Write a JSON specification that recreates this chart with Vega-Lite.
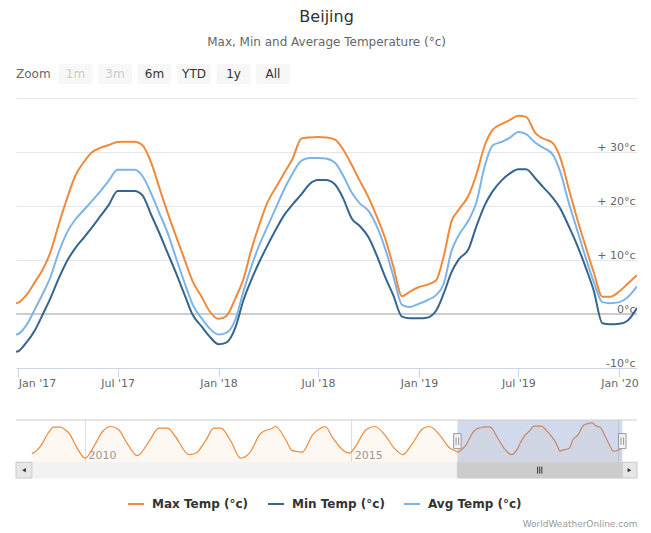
{
  "$schema": "https://vega.github.io/schema/vega-lite/v6.json",
  "background": "white",
  "padding": {"left": 15, "right": 15, "top": 9, "bottom": 0},
  "config": {
    "font": "DejaVu Sans",
    "view": {"stroke": null},
    "axis": {"labelFont": "DejaVu Sans", "labelColor": "#666666", "labelFontSize": 11, "title": null}
  },
  "title": {
    "text": "Beijing",
    "subtitle": "Max, Min and Average Temperature (°c)",
    "anchor": "middle",
    "font": "DejaVu Sans",
    "fontSize": 16,
    "fontWeight": "normal",
    "color": "#333333",
    "subtitleFont": "DejaVu Sans",
    "subtitleFontSize": 12,
    "subtitleColor": "#666666",
    "subtitlePadding": 12,
    "offset": 16
  },
  "datasets": {
    "main": [
      {"date": "2016-12-28", "max": 2.0, "min": -7.0, "avg": -3.8},
      {"date": "2017-01-01", "max": 2.1, "min": -6.9, "avg": -3.7},
      {"date": "2017-01-15", "max": 3.4, "min": -5.4, "avg": -2.2},
      {"date": "2017-02-01", "max": 6.0, "min": -2.9, "avg": 1.0},
      {"date": "2017-02-15", "max": 8.3, "min": 0.0, "avg": 3.8},
      {"date": "2017-03-01", "max": 11.5, "min": 3.0, "avg": 6.9},
      {"date": "2017-03-15", "max": 16.3, "min": 6.4, "avg": 11.2},
      {"date": "2017-04-01", "max": 21.7, "min": 10.0, "avg": 15.3},
      {"date": "2017-04-15", "max": 25.6, "min": 12.2, "avg": 17.5},
      {"date": "2017-05-01", "max": 28.2, "min": 14.2, "avg": 19.3},
      {"date": "2017-05-15", "max": 29.9, "min": 16.0, "avg": 20.9},
      {"date": "2017-06-01", "max": 30.8, "min": 18.3, "avg": 22.9},
      {"date": "2017-06-15", "max": 31.3, "min": 20.2, "avg": 24.7},
      {"date": "2017-07-01", "max": 31.85, "min": 22.8, "avg": 26.7},
      {"date": "2017-07-15", "max": 31.9, "min": 22.8, "avg": 26.7},
      {"date": "2017-08-01", "max": 31.9, "min": 22.8, "avg": 26.7},
      {"date": "2017-08-15", "max": 31.3, "min": 22.0, "avg": 25.6},
      {"date": "2017-09-01", "max": 27.8, "min": 18.2, "avg": 22.1},
      {"date": "2017-09-15", "max": 23.4, "min": 15.0, "avg": 18.7},
      {"date": "2017-10-01", "max": 18.5, "min": 11.1, "avg": 14.8},
      {"date": "2017-10-15", "max": 14.5, "min": 7.7, "avg": 10.5},
      {"date": "2017-11-01", "max": 9.8, "min": 3.3, "avg": 5.5},
      {"date": "2017-11-15", "max": 6.0, "min": -0.2, "avg": 1.7},
      {"date": "2017-12-01", "max": 3.2, "min": -2.3, "avg": -0.8},
      {"date": "2017-12-15", "max": 0.6, "min": -4.1, "avg": -2.6},
      {"date": "2018-01-01", "max": -0.9, "min": -5.6, "avg": -3.8},
      {"date": "2018-01-15", "max": -0.4, "min": -5.3, "avg": -3.5},
      {"date": "2018-02-01", "max": 3.0, "min": -2.4, "avg": -0.9},
      {"date": "2018-02-15", "max": 6.4, "min": 2.5, "avg": 4.1},
      {"date": "2018-03-01", "max": 11.7, "min": 6.2, "avg": 8.6},
      {"date": "2018-03-15", "max": 16.2, "min": 9.4, "avg": 12.5},
      {"date": "2018-04-01", "max": 20.9, "min": 12.9, "avg": 16.4},
      {"date": "2018-04-15", "max": 23.4, "min": 15.6, "avg": 19.6},
      {"date": "2018-05-01", "max": 26.2, "min": 18.4, "avg": 23.2},
      {"date": "2018-05-15", "max": 28.6, "min": 20.2, "avg": 25.9},
      {"date": "2018-06-01", "max": 32.5, "min": 22.2, "avg": 28.4},
      {"date": "2018-06-15", "max": 32.7, "min": 24.0, "avg": 28.9},
      {"date": "2018-07-01", "max": 32.8, "min": 24.8, "avg": 28.9},
      {"date": "2018-07-15", "max": 32.7, "min": 24.8, "avg": 28.8},
      {"date": "2018-08-01", "max": 32.3, "min": 24.0, "avg": 28.0},
      {"date": "2018-08-15", "max": 30.6, "min": 21.6, "avg": 25.8},
      {"date": "2018-09-01", "max": 27.5, "min": 17.6, "avg": 22.4},
      {"date": "2018-09-15", "max": 24.7, "min": 16.3, "avg": 20.5},
      {"date": "2018-10-01", "max": 21.6, "min": 14.2, "avg": 19.1},
      {"date": "2018-10-15", "max": 18.3, "min": 11.1, "avg": 16.5},
      {"date": "2018-11-01", "max": 13.8, "min": 6.7, "avg": 11.9},
      {"date": "2018-11-15", "max": 8.9, "min": 3.5, "avg": 7.1},
      {"date": "2018-12-01", "max": 3.3, "min": -0.5, "avg": 1.7},
      {"date": "2018-12-15", "max": 4.1, "min": -0.8, "avg": 1.3},
      {"date": "2019-01-01", "max": 5.0, "min": -0.8, "avg": 1.9},
      {"date": "2019-01-15", "max": 5.4, "min": -0.7, "avg": 2.5},
      {"date": "2019-02-01", "max": 6.2, "min": 0.6, "avg": 3.5},
      {"date": "2019-02-15", "max": 10.7, "min": 3.8, "avg": 5.6},
      {"date": "2019-03-01", "max": 17.1, "min": 7.7, "avg": 11.6},
      {"date": "2019-03-15", "max": 19.4, "min": 10.2, "avg": 14.7},
      {"date": "2019-04-01", "max": 21.9, "min": 12.0, "avg": 17.3},
      {"date": "2019-04-15", "max": 25.7, "min": 16.1, "avg": 20.5},
      {"date": "2019-05-01", "max": 31.3, "min": 20.2, "avg": 27.5},
      {"date": "2019-05-15", "max": 34.1, "min": 22.7, "avg": 31.2},
      {"date": "2019-06-01", "max": 35.2, "min": 24.8, "avg": 31.9},
      {"date": "2019-06-15", "max": 35.9, "min": 26.0, "avg": 32.6},
      {"date": "2019-07-01", "max": 36.7, "min": 26.8, "avg": 33.7},
      {"date": "2019-07-15", "max": 36.5, "min": 26.8, "avg": 33.3},
      {"date": "2019-08-01", "max": 33.5, "min": 25.1, "avg": 31.7},
      {"date": "2019-08-15", "max": 32.5, "min": 23.5, "avg": 30.8},
      {"date": "2019-09-01", "max": 31.7, "min": 21.6, "avg": 29.6},
      {"date": "2019-09-15", "max": 29.0, "min": 19.6, "avg": 26.4},
      {"date": "2019-10-01", "max": 23.1, "min": 16.2, "avg": 20.5},
      {"date": "2019-10-15", "max": 18.0, "min": 13.0, "avg": 15.9},
      {"date": "2019-11-01", "max": 12.3, "min": 8.5, "avg": 10.3},
      {"date": "2019-11-15", "max": 7.8, "min": 4.4, "avg": 6.0},
      {"date": "2019-12-01", "max": 3.2, "min": -1.7, "avg": 2.2},
      {"date": "2019-12-15", "max": 3.2, "min": -1.9, "avg": 2.0},
      {"date": "2020-01-01", "max": 4.2, "min": -1.8, "avg": 2.2},
      {"date": "2020-01-15", "max": 5.5, "min": -1.3, "avg": 3.0},
      {"date": "2020-02-02", "max": 7.2, "min": 1.1, "avg": 5.1}
    ],
    "history": [
      {"date": "2009-01-01", "max": 0.2},
      {"date": "2009-02-10", "max": 5.0},
      {"date": "2009-03-15", "max": 12.7},
      {"date": "2009-04-20", "max": 24.0},
      {"date": "2009-06-01", "max": 31.5},
      {"date": "2009-07-15", "max": 31.5},
      {"date": "2009-08-20", "max": 28.0},
      {"date": "2009-09-12", "max": 24.4},
      {"date": "2009-11-01", "max": 8.8},
      {"date": "2010-01-01", "max": -5.0},
      {"date": "2010-03-15", "max": 12.7},
      {"date": "2010-05-01", "max": 26.4},
      {"date": "2010-06-25", "max": 32.3},
      {"date": "2010-08-20", "max": 28.4},
      {"date": "2010-10-15", "max": 12.7},
      {"date": "2010-12-25", "max": -2.2},
      {"date": "2011-03-15", "max": 14.6},
      {"date": "2011-05-22", "max": 30.3},
      {"date": "2011-07-20", "max": 30.3},
      {"date": "2011-09-12", "max": 20.5},
      {"date": "2011-12-15", "max": -1.0},
      {"date": "2012-02-01", "max": 0.9},
      {"date": "2012-04-10", "max": 16.6},
      {"date": "2012-06-01", "max": 30.3},
      {"date": "2012-07-20", "max": 30.3},
      {"date": "2012-09-28", "max": 14.6},
      {"date": "2012-12-01", "max": -5.0},
      {"date": "2013-02-01", "max": 0.9},
      {"date": "2013-04-20", "max": 24.4},
      {"date": "2013-07-08", "max": 30.3},
      {"date": "2013-07-30", "max": 32.3},
      {"date": "2013-10-08", "max": 16.6},
      {"date": "2013-11-22", "max": 3.7},
      {"date": "2014-01-30", "max": 2.1},
      {"date": "2014-04-10", "max": 22.5},
      {"date": "2014-06-05", "max": 30.3},
      {"date": "2014-07-05", "max": 32.3},
      {"date": "2014-08-28", "max": 18.5},
      {"date": "2014-11-01", "max": 4.9},
      {"date": "2014-12-20", "max": 0.9},
      {"date": "2015-01-22", "max": 6.8},
      {"date": "2015-04-12", "max": 28.4},
      {"date": "2015-06-10", "max": 32.3},
      {"date": "2015-08-18", "max": 22.5},
      {"date": "2015-10-22", "max": 6.8},
      {"date": "2015-12-20", "max": -1.0},
      {"date": "2016-02-18", "max": 10.8},
      {"date": "2016-05-08", "max": 30.3},
      {"date": "2016-06-20", "max": 32.3},
      {"date": "2016-08-28", "max": 22.5},
      {"date": "2016-11-05", "max": 6.8},
      {"date": "2016-12-20", "max": 2.9},
      {"date": "2016-12-28", "max": 2.0}
    ]
  },
  "vconcat": [
    {
      "vconcat": [
        {
          "width": 277,
          "height": 20,
          "data": {"values": [
            {"label": "Zoom", "role": "caption"},
            {"label": "1m", "role": "disabled"},
            {"label": "3m", "role": "disabled"},
            {"label": "6m", "role": "button"},
            {"label": "YTD", "role": "button"},
            {"label": "1y", "role": "button"},
            {"label": "All", "role": "button"}
          ]},
          "encoding": {
            "x": {"field": "label", "type": "nominal", "sort": null, "axis": null,
                  "scale": {"type": "band", "domain": ["Zoom", "1m", "3m", "6m", "YTD", "1y", "All"], "paddingInner": 0.14, "paddingOuter": 0.076}}
          },
          "layer": [
            {"transform": [{"filter": "datum.role != 'caption'"}],
             "mark": {"type": "rect", "fill": "#f7f7f7", "cornerRadius": 2}},
            {"transform": [{"filter": "datum.role != 'caption'"}],
             "mark": {"type": "text", "fontSize": 12, "baseline": "middle", "font": "DejaVu Sans"},
             "encoding": {"text": {"field": "label"},
                          "color": {"condition": {"test": "datum.role == 'disabled'", "value": "#cccccc"}, "value": "#333333"}}},
            {"transform": [{"filter": "datum.role == 'caption'"}],
             "mark": {"type": "text", "fontSize": 12, "align": "left", "baseline": "middle", "dx": -3, "color": "#666666", "font": "DejaVu Sans"},
             "encoding": {"x": {"field": "label", "type": "nominal", "bandPosition": 0},
                          "text": {"field": "label"}}}
          ]
        },
        {
          "width": 621,
          "height": 270,
          "data": {"name": "main"},
          "layer": [
            {"mark": {"type": "rule", "color": "#cccccc", "strokeWidth": 2},
             "encoding": {"y": {"datum": 0, "type": "quantitative"}}},
            {"transform": [{"fold": ["max", "min", "avg"], "as": ["series", "temp"]}],
             "mark": {"type": "line", "interpolate": "monotone", "strokeWidth": 2, "clip": true},
             "encoding": {
               "x": {"field": "date", "type": "temporal",
                     "scale": {"type": "utc", "domain": [{"year": 2016, "month": 12, "date": 28, "utc": true}, {"year": 2020, "month": 2, "date": 2, "utc": true}]},
                     "axis": {
                       "values": [
                         {"year": 2017, "month": 1, "date": 1, "utc": true},
                         {"year": 2017, "month": 7, "date": 1, "utc": true},
                         {"year": 2018, "month": 1, "date": 1, "utc": true},
                         {"year": 2018, "month": 7, "date": 1, "utc": true},
                         {"year": 2019, "month": 1, "date": 1, "utc": true},
                         {"year": 2019, "month": 7, "date": 1, "utc": true},
                         {"year": 2020, "month": 1, "date": 1, "utc": true}
                       ],
                       "format": "%b '%y",
                       "labelFlush": 3,
                       "labelOverlap": false,
                       "grid": false,
                       "domainColor": "#ccd6eb",
                       "tickColor": "#ccd6eb",
                       "tickSize": 9,
                       "labelPadding": 0,
                       "labelColor": "#666666",
                       "labelFontSize": 11
                     }},
               "y": {"field": "temp", "type": "quantitative",
                     "scale": {"domain": [-10, 40], "nice": false, "zero": false},
                     "axis": {
                       "orient": "right",
                       "values": [-10, 0, 10, 20, 30, 40],
                       "grid": true,
                       "gridColor": "#e6e6e6",
                       "domain": false,
                       "ticks": false,
                       "tickSize": 0,
                       "labelAlign": "right",
                       "labelPadding": -2,
                       "labelBaseline": "alphabetic",
                       "labelOffset": -2,
                       "labelColor": "#666666",
                       "labelFontSize": 11,
                       "labelExpr": "datum.value >= 40 ? '' : (datum.value > 0 ? '+ ' + datum.value + '°c' : datum.value + '°c')"
                     }},
               "color": {"field": "series", "type": "nominal",
                         "scale": {"domain": ["max", "min", "avg"], "range": ["#f1893a", "#35648f", "#7db4e6"]},
                         "legend": {
                           "orient": "none",
                           "legendX": 111,
                           "legendY": 431,
                           "direction": "horizontal",
                           "title": null,
                           "symbolType": "stroke",
                           "symbolSize": 256,
                           "symbolStrokeWidth": 2,
                           "labelFont": "DejaVu Sans",
                           "labelFontSize": 12,
                           "labelFontWeight": "bold",
                           "labelColor": "#333333",
                           "labelOffset": 7,
                           "columnPadding": 15,
                           "labelExpr": "datum.label == 'max' ? 'Max Temp (°c)' : (datum.label == 'min' ? 'Min Temp (°c)' : 'Avg Temp (°c)')"
                         }}
             }}
          ]
        }
      ],
      "spacing": 14,
      "resolve": {"scale": {"x": "independent", "y": "independent"}}
    },
    {
      "width": 621,
      "height": 58,
      "title": {"text": "WorldWeatherOnline.com", "orient": "bottom", "anchor": "end", "font": "DejaVu Sans", "fontSize": 9, "fontWeight": "normal", "color": "#999999", "offset": 41},
      "layer": [
        {"data": {"name": "history"},
         "mark": {"type": "area", "interpolate": "monotone", "color": "#f1893a", "opacity": 0.06},
         "encoding": {
           "x": {"field": "date", "type": "temporal",
                 "scale": {"type": "utc", "domain": [{"year": 2008, "month": 9, "date": 14, "utc": true}, {"year": 2020, "month": 5, "date": 13, "utc": true}]},
                 "axis": {
                   "values": [
                     {"year": 2010, "month": 1, "date": 1, "utc": true},
                     {"year": 2015, "month": 1, "date": 1, "utc": true},
                     {"year": 2020, "month": 1, "date": 1, "utc": true}
                   ],
                   "format": "%Y",
                   "labelExpr": "utcyear(datum.value) >= 2020 ? '' : datum.label",
                   "grid": true,
                   "gridColor": "#dddddd",
                   "domain": false,
                   "ticks": false,
                   "tickSize": 0,
                   "labelAlign": "left",
                   "labelOffset": 3,
                   "labelPadding": -29,
                   "labelBaseline": "top",
                   "labelColor": "#999999",
                   "labelFontSize": 11
                 }},
           "y": {"field": "max", "type": "quantitative", "scale": {"domain": [-28.6, 40], "nice": false, "zero": false}, "axis": null},
           "y2": {"datum": -10}
         }},
        {"data": {"name": "main"},
         "mark": {"type": "area", "interpolate": "monotone", "color": "#f1893a", "opacity": 0.06},
         "encoding": {
           "x": {"field": "date", "type": "temporal"},
           "y": {"field": "max", "type": "quantitative"},
           "y2": {"datum": -10}
         }},
        {"data": {"name": "history"},
         "mark": {"type": "line", "interpolate": "monotone", "color": "#f1893a", "strokeWidth": 1.2},
         "encoding": {
           "x": {"field": "date", "type": "temporal"},
           "y": {"field": "max", "type": "quantitative"}
         }},
        {"data": {"name": "main"},
         "mark": {"type": "line", "interpolate": "monotone", "color": "#f1893a", "strokeWidth": 1.2},
         "encoding": {
           "x": {"field": "date", "type": "temporal"},
           "y": {"field": "max", "type": "quantitative"}
         }},
        {"data": {"values": [{}]},
         "mark": {"type": "rect", "fill": "#6685c2", "opacity": 0.3},
         "encoding": {
           "x": {"datum": {"year": 2016, "month": 12, "date": 28, "utc": true}, "type": "temporal"},
           "x2": {"datum": {"year": 2020, "month": 2, "date": 2, "utc": true}},
           "y": {"datum": 40, "type": "quantitative"},
           "y2": {"datum": -10}
         }},
        {"data": {"values": [{}]},
         "mark": {"type": "rule", "color": "#cccccc", "strokeWidth": 1},
         "encoding": {"y": {"datum": 40, "type": "quantitative"}}},
        {"data": {"values": [{}]},
         "mark": {"type": "rect", "fill": "#f2f2f2", "stroke": "#f2f2f2"},
         "encoding": {
           "x": {"datum": {"year": 2008, "month": 9, "date": 14, "utc": true}, "type": "temporal"},
           "x2": {"datum": {"year": 2020, "month": 5, "date": 13, "utc": true}},
           "y": {"datum": -10, "type": "quantitative"},
           "y2": {"datum": -28.6}
         }},
        {"data": {"values": [{}]},
         "mark": {"type": "rect", "fill": "#cccccc", "stroke": "#cccccc"},
         "encoding": {
           "x": {"datum": {"year": 2016, "month": 12, "date": 28, "utc": true}, "type": "temporal"},
           "x2": {"datum": {"year": 2020, "month": 2, "date": 2, "utc": true}},
           "y": {"datum": -10, "type": "quantitative"},
           "y2": {"datum": -28.6}
         }},
        {"data": {"values": [{}]},
         "mark": {"type": "rect", "fill": "#e6e6e6", "stroke": "#cccccc", "strokeWidth": 1},
         "encoding": {
           "x": {"datum": {"year": 2008, "month": 9, "date": 14, "utc": true}, "type": "temporal"},
           "x2": {"datum": {"year": 2009, "month": 1, "date": 1, "utc": true}},
           "y": {"datum": -10, "type": "quantitative"},
           "y2": {"datum": -28.6}
         }},
        {"data": {"values": [{}]},
         "mark": {"type": "rect", "fill": "#e6e6e6", "stroke": "#cccccc", "strokeWidth": 1},
         "encoding": {
           "x": {"datum": {"year": 2020, "month": 2, "date": 2, "utc": true}, "type": "temporal"},
           "x2": {"datum": {"year": 2020, "month": 5, "date": 13, "utc": true}},
           "y": {"datum": -10, "type": "quantitative"},
           "y2": {"datum": -28.6}
         }},
        {"data": {"values": [{}]},
         "mark": {"type": "point", "shape": "triangle-left", "size": 18, "filled": true, "color": "#333333", "opacity": 1},
         "encoding": {
           "x": {"datum": {"year": 2008, "month": 11, "date": 8, "utc": true}, "type": "temporal"},
           "y": {"datum": -19.3, "type": "quantitative"}
         }},
        {"data": {"values": [{}]},
         "mark": {"type": "point", "shape": "triangle-right", "size": 18, "filled": true, "color": "#333333", "opacity": 1},
         "encoding": {
           "x": {"datum": {"year": 2020, "month": 3, "date": 22, "utc": true}, "type": "temporal"},
           "y": {"datum": -19.3, "type": "quantitative"}
         }},
        {"data": {"values": [{}]},
         "mark": {"type": "point", "shape": "M-0.6,-1V1M0,-1V1M0.6,-1V1", "size": 49, "filled": false, "stroke": "#333333", "strokeWidth": 1, "opacity": 1},
         "encoding": {
           "x": {"datum": {"year": 2018, "month": 7, "date": 16, "utc": true}, "type": "temporal"},
           "y": {"datum": -19.3, "type": "quantitative"}
         }},
        {"data": {"values": [{"date": "2016-12-28"}, {"date": "2020-02-02"}]},
         "mark": {"type": "point", "shape": "M-0.5,-1H0.5V1H-0.5Z M-0.17,-0.5V0.5 M0.17,-0.5V0.5", "size": 225, "filled": true, "fill": "#f2f2f2", "stroke": "#999999", "strokeWidth": 1, "opacity": 1},
         "encoding": {
           "x": {"field": "date", "type": "temporal"},
           "y": {"datum": 15, "type": "quantitative"}
         }}
      ]
    }
  ],
  "spacing": 31,
  "resolve": {"scale": {"x": "independent", "y": "independent"}}
}
